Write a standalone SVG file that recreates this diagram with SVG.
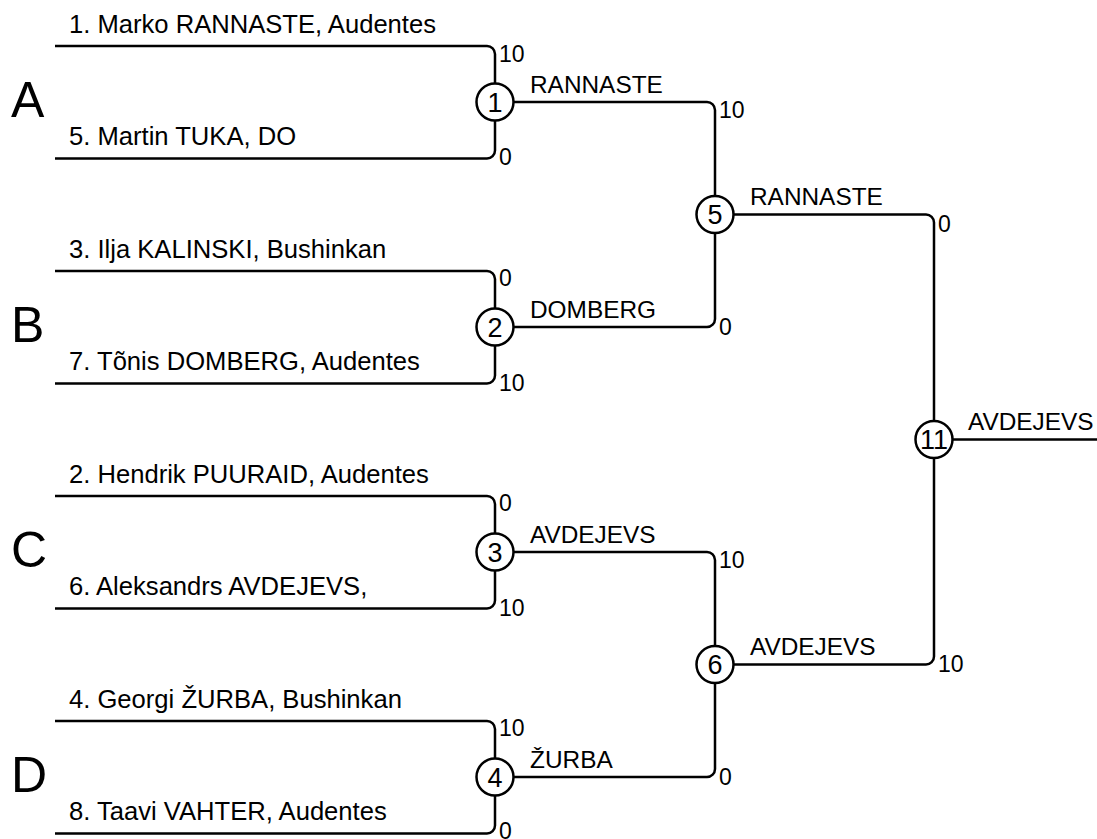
<svg xmlns="http://www.w3.org/2000/svg" width="1097" height="839" viewBox="0 0 1097 839">
<style>
text{font-family:"Liberation Sans",Arial,sans-serif;fill:#000}
.ln{fill:none;stroke:#000;stroke-width:2.5}
.nd circle{fill:#fff;stroke:#000;stroke-width:2.5}
.num{font-size:27px;text-anchor:middle}
.name{font-size:25.6px}
.win{font-size:24.4px}
.sc{font-size:23px}
.grp{font-size:50px}
</style>
<rect width="1097" height="839" fill="#fff"/>
<g id="groups">
<text class="grp" x="11" y="117">A</text>
<text class="grp" x="11" y="342">B</text>
<text class="grp" x="11" y="567">C</text>
<text class="grp" x="11" y="792">D</text>
</g>
<g id="connectors">
<path class="ln" d="M55,46 H487 A8,8 0 0 1 495,54 V150.5 A8,8 0 0 1 487,158.5 H55"/>
<path class="ln" d="M55,271 H487 A8,8 0 0 1 495,279 V375.5 A8,8 0 0 1 487,383.5 H55"/>
<path class="ln" d="M55,496 H487 A8,8 0 0 1 495,504 V600.5 A8,8 0 0 1 487,608.5 H55"/>
<path class="ln" d="M55,721 H487 A8,8 0 0 1 495,729 V825.5 A8,8 0 0 1 487,833.5 H55"/>
<path class="ln" d="M495,102 H707 A8,8 0 0 1 715,110 V319 A8,8 0 0 1 707,327 H495"/>
<path class="ln" d="M495,552 H707 A8,8 0 0 1 715,560 V769 A8,8 0 0 1 707,777 H495"/>
<path class="ln" d="M715,214.5 H926 A8,8 0 0 1 934,222.5 V656.5 A8,8 0 0 1 926,664.5 H715"/>
<path class="ln" d="M934,439.5 H1097"/>
</g>
<g id="players">
<text class="name" x="69" y="33">1. Marko RANNASTE, Audentes</text>
<text class="name" x="69" y="145">5. Martin TUKA, DO</text>
<text class="name" x="69" y="258">3. Ilja KALINSKI, Bushinkan</text>
<text class="name" x="69" y="370">7. Tõnis DOMBERG, Audentes</text>
<text class="name" x="69" y="483">2. Hendrik PUURAID, Audentes</text>
<text class="name" x="69" y="595">6. Aleksandrs AVDEJEVS,</text>
<text class="name" x="69" y="708">4. Georgi ŽURBA, Bushinkan</text>
<text class="name" x="69" y="820">8. Taavi VAHTER, Audentes</text>
</g>
<g id="scores">
<text class="sc" x="499" y="62">10</text>
<text class="sc" x="499" y="165">0</text>
<text class="sc" x="499" y="286">0</text>
<text class="sc" x="499" y="391">10</text>
<text class="sc" x="499" y="511">0</text>
<text class="sc" x="499" y="616">10</text>
<text class="sc" x="499" y="736">10</text>
<text class="sc" x="499" y="839">0</text>
<text class="sc" x="719" y="118">10</text>
<text class="sc" x="719" y="335">0</text>
<text class="sc" x="719" y="568">10</text>
<text class="sc" x="719" y="785">0</text>
<text class="sc" x="938" y="232">0</text>
<text class="sc" x="938" y="672">10</text>
</g>
<g id="winners">
<text class="win" x="530" y="93">RANNASTE</text>
<text class="win" x="530" y="318">DOMBERG</text>
<text class="win" x="530" y="543">AVDEJEVS</text>
<text class="win" x="530" y="768">ŽURBA</text>
<text class="win" x="750" y="205">RANNASTE</text>
<text class="win" x="750" y="655">AVDEJEVS</text>
<text class="win" x="968" y="430">AVDEJEVS</text>
</g>
<g id="m1" class="nd"><circle cx="495" cy="102" r="18.5"/><text class="num" x="495" y="111.5">1</text></g>
<g id="m2" class="nd"><circle cx="495" cy="327" r="18.5"/><text class="num" x="495" y="336.5">2</text></g>
<g id="m3" class="nd"><circle cx="495" cy="552" r="18.5"/><text class="num" x="495" y="561.5">3</text></g>
<g id="m4" class="nd"><circle cx="495" cy="777" r="18.5"/><text class="num" x="495" y="786.5">4</text></g>
<g id="m5" class="nd"><circle cx="715" cy="214.5" r="18.5"/><text class="num" x="715" y="224">5</text></g>
<g id="m6" class="nd"><circle cx="715" cy="664.5" r="18.5"/><text class="num" x="715" y="674">6</text></g>
<g id="m11" class="nd"><circle cx="934" cy="439.5" r="18.5"/><text class="num" x="934" y="449">11</text></g>
</svg>
